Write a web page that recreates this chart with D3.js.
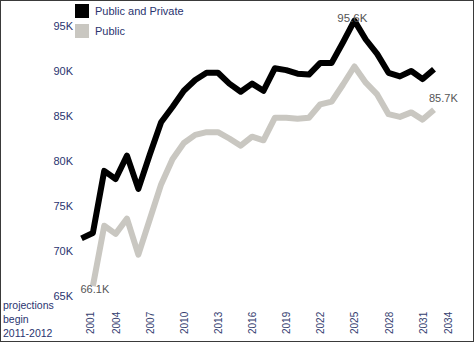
<!DOCTYPE html>
<html>
<head>
<meta charset="utf-8">
<script src="https://cdn.jsdelivr.net/npm/d3@7"></script>
<style>
  body { margin: 0; background: #fff; }
  text { font-family: "Liberation Sans", Arial, sans-serif; }
</style>
</head>
<body>
<div id="chart"></div>
<script>
const years = d3.range(2001, 2033);
const publicPrivate = [71.4, 72.0, 78.9, 78.0, 80.6, 76.9, 80.7, 84.3, 86.0, 87.8, 89.0, 89.8, 89.8, 88.6, 87.7, 88.6,
  87.8, 90.3, 90.1, 89.7, 89.6, 90.9, 90.9, 93.2, 95.6, 93.5, 91.9, 89.8, 89.4, 90.0, 89.1, 90.2];
const publicOnly = [null, 66.1, 72.8, 71.9, 73.6, 69.6, 73.5, 77.4, 80.2, 82.0, 82.9, 83.2, 83.2, 82.5, 81.7, 82.7,
  82.3, 84.8, 84.8, 84.7, 84.8, 86.3, 86.6, 88.5, 90.5, 88.7, 87.4, 85.2, 84.9, 85.4, 84.6, 85.7];
const xTicks = [2001, 2004, 2007, 2010, 2013, 2016, 2019, 2022, 2025, 2028, 2031, 2034];
const yTicks = [65, 70, 75, 80, 85, 90, 95];
const seriesNames = ["Public and Private", "Public"];
const seriesColors = ["#000000", "#c9c7c1"];

const W = 474, H = 342;
const navy = "#2a3470";

const svg = d3.select("#chart").append("svg")
  .attr("width", W)
  .attr("height", H);

svg.append("rect")
  .attr("x", 0.5).attr("y", 0.5)
  .attr("width", W - 1).attr("height", H - 1)
  .attr("fill", "#fff")
  .attr("stroke", "#3a3a3a");

const x = d3.scaleLinear().domain([2001, 2032]).range([81.5, 434]);
const y = d3.scaleLinear().domain([65, 95]).range([296, 26]);

// y tick labels
svg.append("g").selectAll("text")
  .data(yTicks)
  .enter().append("text")
  .attr("x", 73)
  .attr("y", d => y(d))
  .attr("dy", "0.35em")
  .attr("text-anchor", "end")
  .style("font-size", "11px")
  .attr("fill", navy)
  .text(d => d + "K");

// x tick labels, kept inside the frame
svg.append("g").selectAll("text")
  .data(xTicks)
  .enter().append("text")
  .attr("transform", d => `translate(${Math.min(Math.max(x(d), 90), 448) + 4},334) rotate(-90)`)
  .style("font-size", "10px")
  .attr("fill", "#34406f")
  .text(d => d);

const line = d3.line()
  .defined(d => d[1] != null)
  .x(d => x(d[0]))
  .y(d => y(d[1]));

[publicOnly, publicPrivate].forEach((vals, i) => {
  svg.append("path")
    .datum(years.map((yr, j) => [yr, vals[j]]))
    .attr("fill", "none")
    .attr("stroke", seriesColors[1 - i])
    .attr("stroke-width", 6)
    .attr("stroke-linejoin", "round")
    .attr("d", line);
});

// data labels
const labelColor = "#555";
svg.append("text")
  .attr("x", x(2002) + 2).attr("y", y(66.1) + 7)
  .attr("text-anchor", "middle")
  .style("font-size", "11px")
  .attr("fill", labelColor)
  .text("66.1K");

svg.append("text")
  .attr("x", x(2025) - 2).attr("y", y(95.6) + 1)
  .attr("text-anchor", "middle")
  .style("font-size", "11.5px")
  .attr("fill", labelColor)
  .text("95.6K");

svg.append("text")
  .attr("x", x(2032) - 5).attr("y", y(85.7) - 8)
  .style("font-size", "11px")
  .attr("fill", labelColor)
  .text("85.7K");

// legend
const legend = svg.append("g").attr("transform", "translate(75,4)");
seriesNames.forEach((name, i) => {
  legend.append("rect")
    .attr("x", 0).attr("y", i * 20)
    .attr("width", 14).attr("height", 14)
    .attr("fill", seriesColors[i]);
  legend.append("text")
    .attr("x", 20).attr("y", i * 20 + 7)
    .attr("dy", "0.35em")
    .style("font-size", "11px")
    .attr("fill", navy)
    .text(name);
});

// note
const note = svg.append("text")
  .attr("x", 3).attr("y", 309)
  .style("font-size", "10.5px")
  .attr("fill", navy);
["projections", "begin", "2011-2012"].forEach((t, i) => {
  note.append("tspan").attr("x", 3).attr("dy", i ? 14 : 0).text(t);
});
</script>
</body>
</html>
